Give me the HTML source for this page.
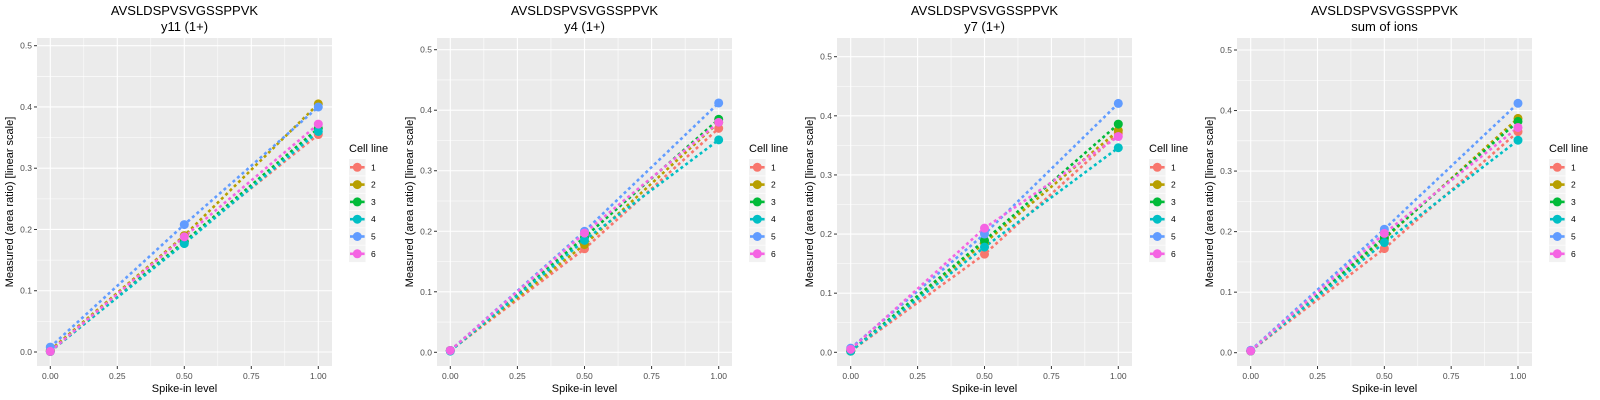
<!DOCTYPE html>
<html><head><meta charset="utf-8"><style>
body{margin:0;background:#fff;width:1600px;height:400px;overflow:hidden}
svg{display:block;font-family:"Liberation Sans",sans-serif}
</style></head><body>
<svg id="chart" width="1600" height="400" viewBox="0 0 1600 400"></svg>
<script>
const levels = [0, 0.5, 1];
const cellLines = ["1","2","3","4","5","6"];
const colors = ["#F8766D","#B79F00","#00BA38","#00BFC4","#619CFF","#F564E3"];
const panelTitles = ["y11 (1+)","y4 (1+)","y7 (1+)","sum of ions"];
const peptide = "AVSLDSPVSVGSSPPVK";
const xTicks = [0, 0.25, 0.5, 0.75, 1];
const xTickLabels = ["0.00","0.25","0.50","0.75","1.00"];
const yTicks = [0, 0.1, 0.2, 0.3, 0.4, 0.5];
const yTickLabels = ["0.0","0.1","0.2","0.3","0.4","0.5"];
const p1Values = [[0.001,0.18,0.355],[0.003,0.19,0.405],[0.001,0.18,0.365],[0.001,0.177,0.36],[0.008,0.208,0.40],[0.001,0.188,0.372]];
const p2Values = [[0.003,0.171,0.37],[0.003,0.178,0.38],[0.003,0.19,0.385],[0.002,0.185,0.351],[0.003,0.20,0.412],[0.003,0.197,0.38]];
const p3Values = [[0.002,0.166,0.37],[0.002,0.185,0.375],[0.002,0.189,0.386],[0.002,0.178,0.346],[0.007,0.20,0.421],[0.005,0.21,0.365]];
const p4Values = [[0.003,0.172,0.365],[0.003,0.188,0.387],[0.003,0.19,0.382],[0.003,0.182,0.351],[0.004,0.204,0.412],[0.003,0.197,0.372]];
const panelData = [p1Values,p2Values,p3Values,p4Values];

// layout (not data)
const layouts = [
 {rx:37, y0:352, y5:45.7, x0:50.3, x1:318.3},
 {rx:437, y0:352.3, y5:49.7, x0:450.3, x1:718.7},
 {rx:837, y0:352.3, y5:56.7, x0:850.7, x1:1118.3},
 {rx:1237, y0:352.7, y5:50, x0:1250.7, x1:1518}
];
const NS="http://www.w3.org/2000/svg";
const svg=document.getElementById('chart');
function mk(tag,attrs,parent,text){const e=document.createElementNS(NS,tag);for(const k in attrs)e.setAttribute(k,attrs[k]);if(text!==undefined)e.textContent=text;(parent||svg).appendChild(e);return e;}

layouts.forEach((L,pi)=>{
  const W=295, top=38, bottom=366;
  const xs=v=>L.x0+(L.x1-L.x0)*v;
  const ys=v=>L.y0-(L.y0-L.y5)*v/0.5;
  const g=mk('g',{});
  
  
  const bg=mk('rect',{x:L.rx,y:top,width:W,height:bottom-top,fill:'#EBEBEB'},g);
  
  
  // minor grid
  for(let i=0;i<xTicks.length-1;i++){const v=(xTicks[i]+xTicks[i+1])/2;mk('line',{x1:xs(v),x2:xs(v),y1:top,y2:bottom,stroke:'#fff','stroke-width':0.55},g);}
  for(let i=0;i<yTicks.length-1;i++){const v=(yTicks[i]+yTicks[i+1])/2;mk('line',{x1:L.rx,x2:L.rx+W,y1:ys(v),y2:ys(v),stroke:'#fff','stroke-width':0.55},g);}
  xTicks.forEach((v,i)=>{
    mk('line',{x1:xs(v),x2:xs(v),y1:top,y2:bottom,stroke:'#fff','stroke-width':1.1},g);
    mk('line',{x1:xs(v),x2:xs(v),y1:bottom,y2:bottom+3,stroke:'#333','stroke-width':1},g);
    const t=mk('text',{x:xs(v),y:379,'text-anchor':'middle','font-size':8.5,fill:'#4D4D4D'},g,xTickLabels[i]);
    
    
  });
  yTicks.forEach((v,i)=>{
    mk('line',{x1:L.rx,x2:L.rx+W,y1:ys(v),y2:ys(v),stroke:'#fff','stroke-width':1.1},g);
    mk('line',{x1:L.rx-3,x2:L.rx,y1:ys(v),y2:ys(v),stroke:'#333','stroke-width':1},g);
    const t=mk('text',{x:L.rx-5,y:ys(v)+3,'text-anchor':'end','font-size':8.5,fill:'#4D4D4D'},g,yTickLabels[i]);
    
    
  });
  const cx=L.rx+W/2;
  const t1=mk('text',{x:cx,y:15,'text-anchor':'middle','font-size':13,fill:'#000'},g,peptide);
  
  
  const t2=mk('text',{x:cx,y:31,'text-anchor':'middle','font-size':13,fill:'#000'},g,panelTitles[pi]);
  
  
  const xt=mk('text',{x:cx,y:392,'text-anchor':'middle','font-size':11,fill:'#000'},g,'Spike-in level');
  
  
  const yt=mk('text',{x:0,y:0,'text-anchor':'middle','font-size':11,fill:'#000',transform:`translate(${L.rx-24},${(top+bottom)/2}) rotate(-90)`},g,'Measured (area ratio) [linear scale]');
  
  
  const vals=panelData[pi];
  vals.forEach((series,si)=>{
    const pts=levels.map((lv,k)=>xs(lv)+','+ys(series[k])).join(' ');
    const pl=mk('polyline',{points:pts,fill:'none',stroke:colors[si],'stroke-width':2.6,'stroke-dasharray':'3 3'},g);
    
    
  });
  vals.forEach((series,si)=>{
    levels.forEach((lv,k)=>{
      const c=mk('circle',{cx:xs(lv),cy:ys(series[k]),r:4.5,fill:colors[si]},g);
      
      
    });
  });
  // legend
  const lx=L.rx+W+17;
  const lg=mk('g',{},g);
  
  
  mk('text',{x:lx,y:152,'font-size':11,fill:'#000'},lg,'Cell line');
  cellLines.forEach((c,i)=>{
    const cy=167.3+i*17.3;
    const e=mk('g',{},lg);
    
    
    mk('rect',{x:lx,y:cy-8.3,width:16.6,height:16.6,fill:'#F2F2F2'},e);
    mk('line',{x1:lx+1,x2:lx+15.6,y1:cy,y2:cy,stroke:colors[i],'stroke-width':2.6},e);
    mk('circle',{cx:lx+8.3,cy:cy,r:4.5,fill:colors[i]},e);
    mk('text',{x:lx+22,y:cy+3,'font-size':8.5,fill:'#000'},e,c);
  });
});
</script>
</body></html>
